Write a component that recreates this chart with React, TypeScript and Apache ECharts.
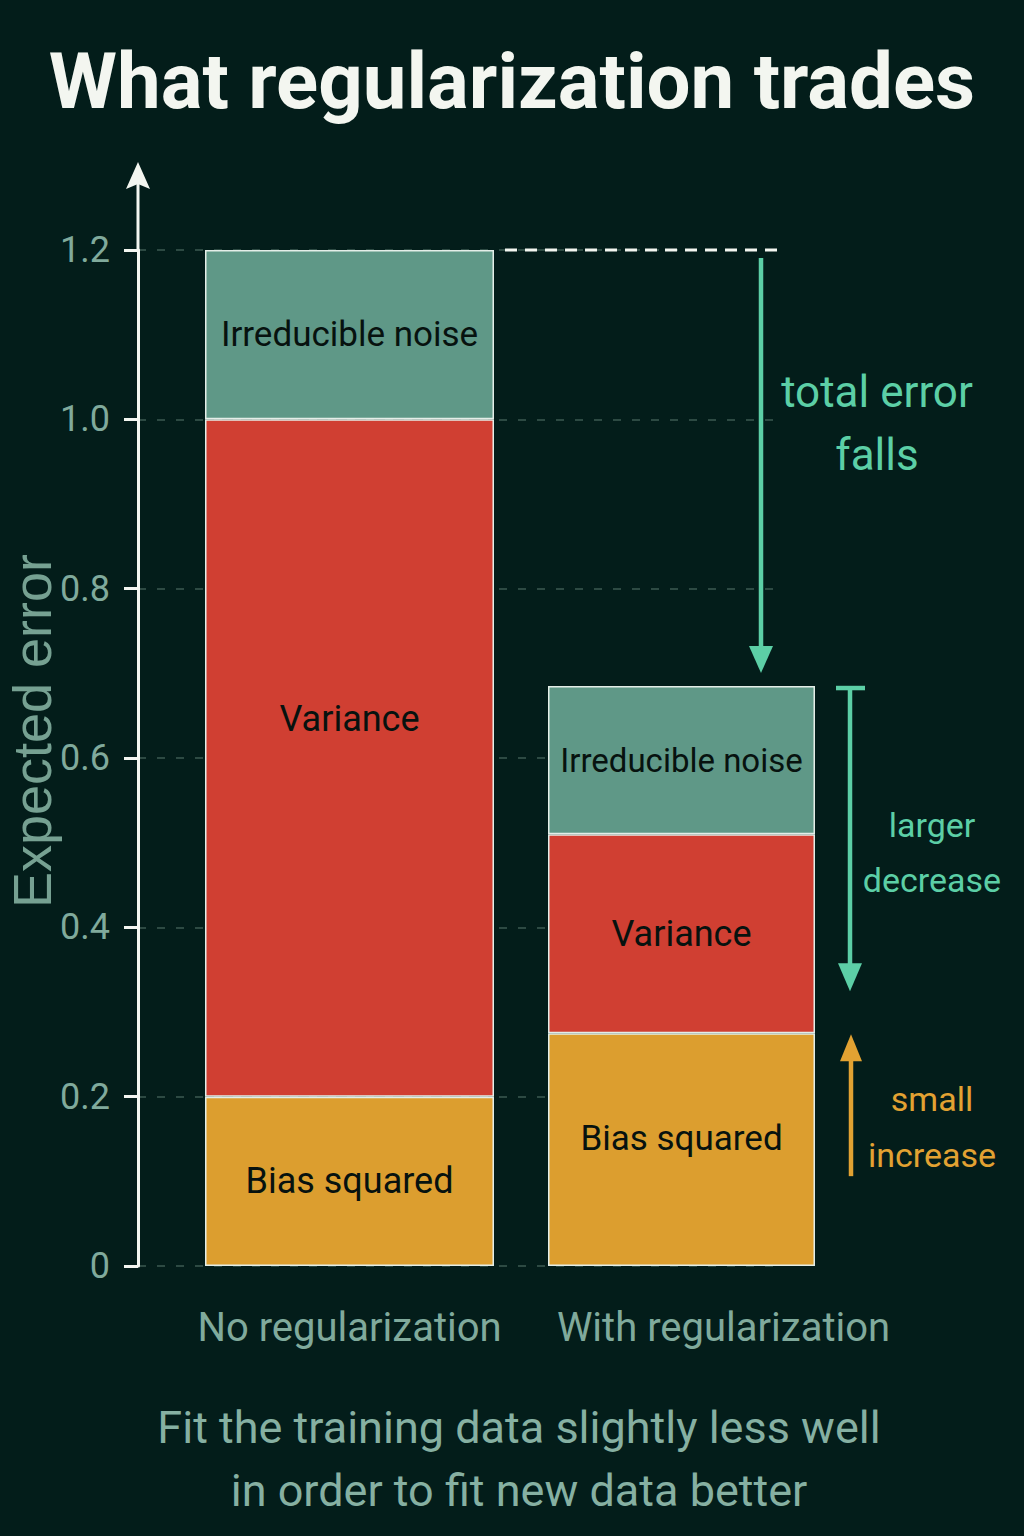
import React, { useEffect, useRef } from "react";
import * as echarts from "echarts";

const categories = ["No regularization", "With regularization"];
const biasSquared = [0.2, 0.275];
const variance = [0.8, 0.235];
const irreducibleNoise = [0.2, 0.175];
const seriesNames = ["Bias squared", "Variance", "Irreducible noise"];
const yMin = 0;
const yMax = 1.2;
const yInterval = 0.2;

const titleText = "What regularization trades";
const yAxisName = "Expected error";
const footLines = ["Fit the training data slightly less well", "in order to fit new data better"];
const noteFalls = ["total error", "falls"];
const noteDecrease = ["larger", "decrease"];
const noteIncrease = ["small", "increase"];

const FONT = "Roboto, 'Noto Sans', sans-serif";
const BG = "#031d1a";
const COL_BIAS = "#dc9e2f";
const COL_VAR = "#d03f32";
const COL_NOISE = "#5f9887";
const TEAL = "#5ccfa6";
const ORANGE = "#e2a232";
const MUTED = "#80aa9c";
const WHITE = "#f3f6f0";

export default function App() {
  const ref = useRef<HTMLDivElement>(null);

  useEffect(() => {
    if (!ref.current) return;
    const chart = echarts.init(ref.current, null, { renderer: "svg" });

    const gridTop = 250;
    const gridH = 1016;
    const grids = [
      { left: 205, width: 289, top: gridTop, height: gridH, outerBoundsMode: "none", containLabel: false },
      { left: 548, width: 267, top: gridTop, height: gridH, outerBoundsMode: "none", containLabel: false },
      { left: 138, width: 642, top: gridTop, height: gridH, outerBoundsMode: "none", containLabel: false },
    ];

    const values = [biasSquared, variance, irreducibleNoise];
    const colors = [COL_BIAS, COL_VAR, COL_NOISE];
    const labelSizes = [
      [36, 36, 35],
      [35, 36, 33],
    ];
    const series: any[] = [];
    for (let b = 0; b < 2; b++) {
      for (let s = 0; s < 3; s++) {
        const item: any = { value: values[s][b] };
        if (b === 0 && s === 1) item.label = { offset: [0, -39] };
        if (b === 1 && s === 0) item.label = { offset: [0, -11] };
        series.push({
          type: "bar",
          name: seriesNames[s],
          stack: "bar" + b,
          xAxisIndex: b,
          yAxisIndex: b,
          barWidth: "100%",
          data: [item],
          itemStyle: { color: colors[s], borderColor: "#e4eee8", borderWidth: 1.5 },
          label: {
            show: true,
            position: "inside",
            formatter: "{a}",
            color: "#07120f",
            fontFamily: FONT,
            fontSize: labelSizes[b][s],
          },
          z: 3,
        });
      }
    }

    const option: any = {
      animation: false,
      backgroundColor: BG,
      title: {
        text: titleText,
        left: "center",
        top: 37,
        textStyle: { color: WHITE, fontFamily: "Roboto", fontWeight: "bold", fontSize: 78 },
      },
      grid: grids,
      xAxis: [
        {
          type: "category",
          gridIndex: 0,
          data: [categories[0]],
          axisLine: { show: false },
          axisTick: { show: false },
          axisLabel: { color: MUTED, fontFamily: FONT, fontSize: 40, margin: 41 },
        },
        {
          type: "category",
          gridIndex: 1,
          data: [categories[1]],
          axisLine: { show: false },
          axisTick: { show: false },
          axisLabel: {
            color: MUTED,
            fontFamily: FONT,
            fontSize: 40,
            margin: 41,
            padding: [0, 0, 0, 84],
          },
        },
        { type: "value", gridIndex: 2, min: 0, max: 1, show: false },
      ],
      yAxis: [
        { type: "value", gridIndex: 0, min: yMin, max: yMax, show: false },
        { type: "value", gridIndex: 1, min: yMin, max: yMax, show: false },
        {
          type: "value",
          gridIndex: 2,
          min: yMin,
          max: yMax,
          interval: yInterval,
          axisLine: { show: true, lineStyle: { color: WHITE, width: 3 } },
          axisTick: { show: true, length: 14, lineStyle: { color: WHITE, width: 3 } },
          axisLabel: {
            color: MUTED,
            fontFamily: FONT,
            fontSize: 36,
            margin: 28,
            formatter: (v: number) => (v === 0 ? "0" : v.toFixed(1)),
          },
          splitLine: {
            show: true,
            lineStyle: { color: "#3c5a52", width: 1.5, type: [8, 11] },
          },
        },
      ],
      series,
    };

    chart.setOption(option);

    const yPix = (v: number) => chart.convertToPixel({ yAxisIndex: 2 }, v) as number;
    const total2 = biasSquared[1] + variance[1] + irreducibleNoise[1];
    const yTop = yPix(yMax);
    const yTot2 = yPix(total2);
    const yBias2 = yPix(biasSquared[1]);

    const textEl = (color: string, size: number, lines: string[], x: number, y: number, lh: number) => ({
      type: "text",
      x,
      y,
      style: {
        text: lines.join("\n"),
        fill: color,
        font: `${size}px ${FONT}`,
        align: "center",
        verticalAlign: "middle",
        lineHeight: lh,
      },
    });

    const graphic: any[] = [
      {
        type: "text",
        x: 32,
        y: 731,
        rotation: Math.PI / 2,
        style: {
          text: yAxisName,
          fill: "#76a192",
          font: "54px 'Liberation Sans', Arial, sans-serif",
          align: "center",
          verticalAlign: "middle",
        },
      },
      {
        type: "line",
        shape: { x1: 138, y1: yTop, x2: 138, y2: 180 },
        style: { stroke: WHITE, lineWidth: 3 },
        z: 5,
      },
      {
        type: "polygon",
        shape: { points: [[138, 162], [126, 189], [138, 184], [150, 189]] },
        style: { fill: WHITE },
        z: 5,
      },
      {
        type: "line",
        shape: { x1: 505, y1: yTop, x2: 780, y2: yTop },
        style: { stroke: WHITE, lineWidth: 3, lineDash: [12, 8] },
        z: 5,
      },
      {
        type: "line",
        shape: { x1: 761, y1: yTop + 8, x2: 761, y2: yTot2 - 30 },
        style: { stroke: TEAL, lineWidth: 4.5 },
        z: 5,
      },
      {
        type: "polygon",
        shape: { points: [[749, yTot2 - 40], [773, yTot2 - 40], [761, yTot2 - 13]] },
        style: { fill: TEAL },
        z: 5,
      },
      {
        type: "line",
        shape: { x1: 836, y1: yTot2 + 2, x2: 865, y2: yTot2 + 2 },
        style: { stroke: TEAL, lineWidth: 4.5 },
        z: 5,
      },
      {
        type: "line",
        shape: { x1: 850, y1: yTot2 + 2, x2: 850, y2: yBias2 - 60 },
        style: { stroke: TEAL, lineWidth: 4.5 },
        z: 5,
      },
      {
        type: "polygon",
        shape: { points: [[838, yBias2 - 70], [862, yBias2 - 70], [850, yBias2 - 42]] },
        style: { fill: TEAL },
        z: 5,
      },
      {
        type: "line",
        shape: { x1: 851, y1: yBias2 + 143, x2: 851, y2: yBias2 + 20 },
        style: { stroke: ORANGE, lineWidth: 4.5 },
        z: 5,
      },
      {
        type: "polygon",
        shape: { points: [[840, yBias2 + 28], [862, yBias2 + 28], [851, yBias2 + 1]] },
        style: { fill: ORANGE },
        z: 5,
      },
      textEl(TEAL, 44, noteFalls, 877, 423, 63),
      textEl(TEAL, 34, noteDecrease, 932, 852, 55),
      textEl(ORANGE, 34, noteIncrease, 932, 1127, 56),
      textEl("#86b0a2", 45, footLines, 519, 1459, 63),
    ];
    chart.setOption({ graphic });

    return () => chart.dispose();
  }, []);

  return (
    <div
      ref={ref}
      style={{ position: "fixed", left: 0, top: 0, width: 1024, height: 1536 }}
    />
  );
}
